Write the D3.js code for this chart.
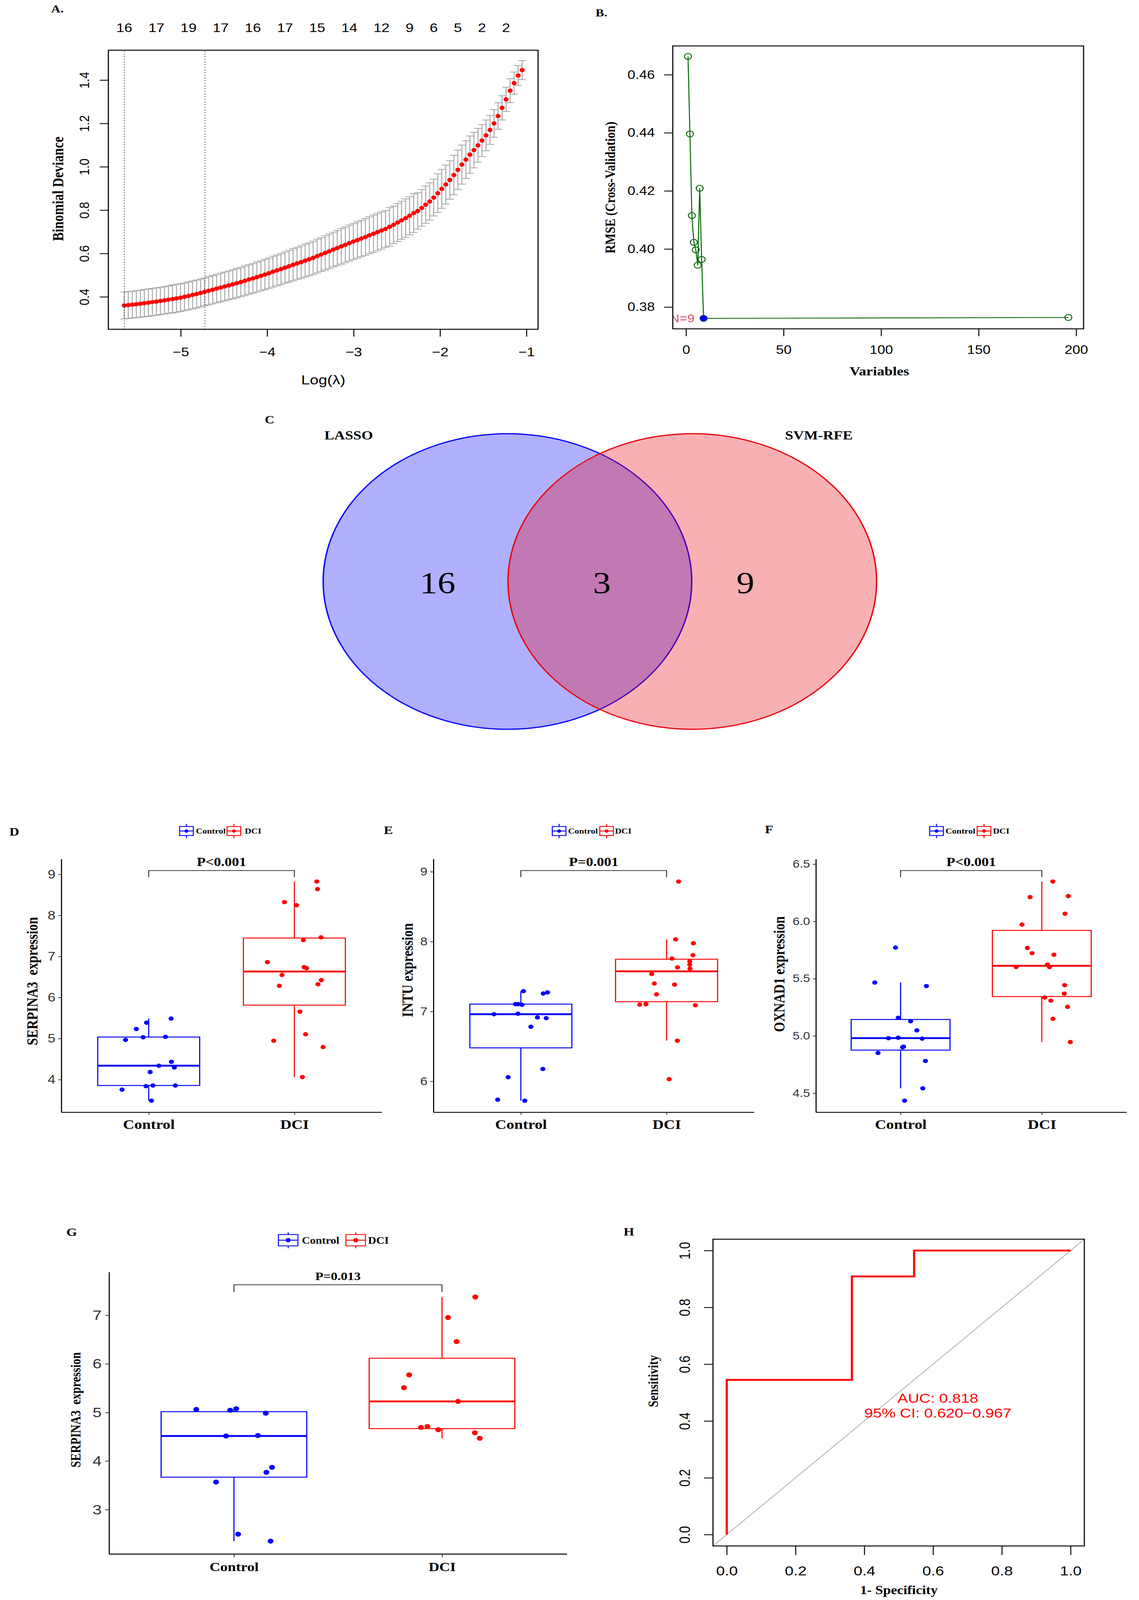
<!DOCTYPE html>
<html>
<head>
<meta charset="utf-8">
<script src="https://cdn.jsdelivr.net/npm/d3@7"></script>
<style>
  html, body { margin: 0; padding: 0; background: #fff; width: 100%; height: 100%; overflow: hidden; }
  svg { display: block; width: 100vw; height: 100vh; }
</style>
</head>
<body>
<svg id="fig" viewBox="0 0 2917 4796" preserveAspectRatio="none"></svg>
<script>
// ---------- A: LASSO cv.glmnet ----------
const lassoLogLambda = [
  -5.653,-5.607,-5.560,-5.514,-5.467,-5.421,-5.374,-5.328,-5.281,-5.235,
  -5.188,-5.142,-5.095,-5.049,-5.002,-4.956,-4.909,-4.863,-4.816,-4.770,
  -4.723,-4.677,-4.630,-4.584,-4.537,-4.491,-4.444,-4.398,-4.351,-4.305,
  -4.258,-4.212,-4.165,-4.119,-4.072,-4.026,-3.979,-3.933,-3.886,-3.840,
  -3.793,-3.747,-3.700,-3.654,-3.607,-3.561,-3.514,-3.468,-3.421,-3.375,
  -3.328,-3.282,-3.235,-3.189,-3.142,-3.096,-3.049,-3.003,-2.956,-2.910,
  -2.863,-2.817,-2.770,-2.724,-2.677,-2.631,-2.584,-2.538,-2.491,-2.445,
  -2.398,-2.352,-2.305,-2.259,-2.212,-2.166,-2.119,-2.073,-2.026,-1.980,
  -1.933,-1.887,-1.840,-1.794,-1.747,-1.701,-1.654,-1.608,-1.561,-1.515,
  -1.468,-1.422,-1.375,-1.329,-1.282,-1.236,-1.189,-1.143,-1.096,-1.050
];
const lassoDeviance = [
  0.360,0.362,0.364,0.366,0.368,0.371,0.373,0.376,0.378,0.381,
  0.384,0.387,0.390,0.393,0.396,0.400,0.404,0.409,0.413,0.418,
  0.423,0.428,0.433,0.438,0.443,0.448,0.453,0.458,0.463,0.468,
  0.474,0.480,0.485,0.491,0.497,0.503,0.509,0.516,0.522,0.528,
  0.535,0.541,0.548,0.554,0.560,0.567,0.573,0.580,0.588,0.595,
  0.603,0.610,0.618,0.625,0.633,0.640,0.648,0.655,0.662,0.669,
  0.676,0.684,0.691,0.699,0.706,0.713,0.723,0.732,0.743,0.753,
  0.763,0.774,0.786,0.796,0.810,0.825,0.840,0.858,0.878,0.898,
  0.918,0.939,0.962,0.986,1.010,1.033,1.056,1.077,1.099,1.121,
  1.145,1.170,1.200,1.234,1.272,1.311,1.351,1.386,1.421,1.446
];
const lassoSE = [
  0.062,0.062,0.062,0.062,0.062,0.063,0.063,0.063,0.063,0.063,
  0.063,0.063,0.064,0.064,0.064,0.064,0.064,0.064,0.064,0.064,
  0.064,0.065,0.065,0.065,0.066,0.066,0.066,0.067,0.067,0.067,
  0.068,0.068,0.068,0.069,0.069,0.070,0.070,0.071,0.071,0.072,
  0.072,0.073,0.074,0.074,0.075,0.076,0.076,0.077,0.078,0.078,
  0.079,0.080,0.080,0.081,0.082,0.082,0.083,0.083,0.084,0.084,
  0.085,0.085,0.086,0.086,0.086,0.085,0.089,0.087,0.088,0.088,
  0.089,0.088,0.089,0.084,0.085,0.086,0.086,0.085,0.089,0.090,
  0.090,0.089,0.091,0.091,0.090,0.087,0.086,0.082,0.078,0.074,
  0.071,0.067,0.064,0.061,0.056,0.056,0.055,0.051,0.046,0.044
];
const lassoVLines = [-5.653, -4.720];
const lassoTopAt = [-5.653,-5.281,-4.909,-4.537,-4.165,-3.793,-3.421,-3.049,-2.677,-2.352,-2.073,-1.794,-1.515,-1.236];
const lassoTopLabels = ['16','17','19','17','16','17','15','14','12','9','6','5','2','2'];
const lassoXTicks = [-5, -4, -3, -2, -1];
const lassoYTicks = [0.4, 0.6, 0.8, 1.0, 1.2, 1.4];

// ---------- B: SVM-RFE ----------
const rfeVariables = [1, 2, 3, 4, 5, 6, 7, 8, 9, 196];
const rfeRMSE = [0.4663, 0.4396, 0.4115, 0.4023, 0.3997, 0.3944, 0.4209, 0.3964, 0.3761, 0.3764];
const rfeBest = 9;
const rfeXTicks = [0, 50, 100, 150, 200];
const rfeYTicks = [0.38, 0.40, 0.42, 0.44, 0.46];

// ---------- C: Venn ----------
const vennSets = ['LASSO', 'SVM-RFE'];
const vennCounts = [16, 3, 9]; // LASSO only, both, SVM-RFE only

// ---------- D-G: expression box plots ----------
const groups = ['Control', 'DCI'];

const dCtrl    = [5.487,5.386,5.233,4.968,5.032,5.042,4.434,4.339,4.296,4.185,3.757,3.841,3.857,3.857,3.487];
const dCtrlJit = [0.154,-0.015,-0.085,-0.159,-0.038,0.115,0.156,0.070,0.176,0.010,-0.183,-0.019,0.029,0.183,0.019];
const dDci     = [8.825,8.640,8.323,8.249,7.466,7.397,6.862,6.741,6.714,6.550,6.423,6.323,6.286,5.656,5.106,4.947,4.794,4.063];
const dDciJit  = [0.154,0.159,-0.068,0.015,0.183,0.062,-0.185,0.067,0.084,-0.085,0.185,0.162,-0.103,0.038,0.077,-0.142,0.197,0.055];

const eCtrl    = [7.291,7.257,7.273,7.105,7.105,7.095,6.961,6.968,6.915,6.905,6.781,6.177,6.059,5.738,5.723];
const eCtrlJit = [0.018,0.154,0.183,-0.037,-0.018,0.008,-0.184,-0.020,0.114,0.174,0.069,0.151,-0.087,-0.159,0.027];
const eDci     = [8.860,8.032,7.976,7.805,7.758,7.718,7.671,7.631,7.612,7.537,7.400,7.385,7.245,7.098,7.105,7.089,6.582,6.031];
const eDciJit  = [0.082,0.062,0.184,0.181,0.037,0.159,0.159,0.075,0.161,-0.102,-0.084,0.055,-0.069,-0.184,-0.142,0.198,0.074,0.018];

const fCtrl    = [5.771,5.466,5.435,5.158,5.128,5.048,4.980,4.984,4.976,4.900,4.906,4.851,4.781,4.542,4.434];
const fCtrlJit = [-0.036,-0.183,0.183,-0.017,0.071,0.115,-0.086,-0.017,0.153,0.014,0.021,-0.160,0.176,0.157,0.028];
const fDci     = [6.348,6.212,6.221,6.067,5.972,5.768,5.722,5.709,5.602,5.623,5.601,5.443,5.369,5.335,5.308,5.253,5.149,4.946];
const fDciJit  = [0.078,-0.083,0.188,0.164,-0.140,-0.102,-0.069,0.086,-0.182,0.040,0.055,0.162,0.159,0.021,0.064,0.183,0.079,0.202];

const gCtrl    = [5.062,5.046,5.077,4.985,4.515,4.526,3.871,3.768,3.567,2.495,2.351];
const gCtrlJit = [-0.181,-0.018,0.011,0.153,-0.038,0.115,0.183,0.156,-0.086,0.020,0.176];
const gDci     = [7.376,6.954,6.459,5.773,5.510,5.227,4.691,4.711,4.644,4.582,4.469];
const gDciJit  = [0.160,0.029,0.070,-0.158,-0.183,0.077,-0.101,-0.070,-0.018,0.158,0.181];

// ---------- H: ROC ----------
const rocFpr = [0, 0, 0.364, 0.364, 0.545, 0.545, 1];
const rocTpr = [0, 0.545, 0.545, 0.909, 0.909, 1, 1];
const rocText = ['AUC: 0.818', '95% CI: 0.620\u22120.967'];
const rocTicks = [0, 0.2, 0.4, 0.6, 0.8, 1.0];

const SANS = '"Liberation Sans", Arial, Helvetica, sans-serif';
const SERIF = '"Liberation Serif", "Times New Roman", serif';
const groupColor = { Control: '#0000FF', DCI: '#FF0000' };

const svg = d3.select('#fig');
svg.append('rect').attr('width', 2917).attr('height', 4796).attr('fill', '#fff');

// R pads axis ranges by 4%
const rPad = ([a, b]) => [a - 0.04 * (b - a), b + 0.04 * (b - a)];

function addText(parent, txt, x, y, size, opt = {}) {
  return parent.append('text')
    .attr('x', x).attr('y', y)
    .attr('font-family', opt.family || SERIF)
    .attr('font-weight', opt.weight || 'bold')
    .attr('font-size', size)
    .attr('fill', opt.fill || '#000')
    .attr('text-anchor', opt.anchor || 'start')
    .text(txt);
}
function addVText(parent, txt, x, y, size, opt = {}) {
  return parent.append('text')
    .attr('transform', `translate(${x},${y}) rotate(-90)`)
    .attr('font-family', opt.family || SERIF)
    .attr('font-weight', opt.weight || 'bold')
    .attr('font-size', size)
    .attr('fill', '#000')
    .attr('text-anchor', 'middle')
    .attr('xml:space', 'preserve')
    .text(txt);
}

// R style axes: no domain line (box drawn instead)
function rAxisBottom(g, scale, ticks, yPos, fmt, tickLen, pad, size) {
  g.append('g').attr('transform', `translate(0,${yPos})`)
    .call(d3.axisBottom(scale).tickValues(ticks).tickSize(tickLen).tickPadding(pad).tickFormat(fmt))
    .call(a => a.select('.domain').remove())
    .call(a => a.selectAll('line').attr('stroke', '#000').attr('stroke-width', 2.5))
    .call(a => a.selectAll('text').attr('font-family', SANS).attr('font-size', size).attr('fill', '#000'));
}
function rAxisLeftRotated(g, scale, ticks, xPos, fmt, tickLen, offset, size) {
  g.append('g').attr('transform', `translate(${xPos},0)`)
    .call(d3.axisLeft(scale).tickValues(ticks).tickSize(tickLen).tickFormat(fmt))
    .call(a => a.select('.domain').remove())
    .call(a => a.selectAll('line').attr('stroke', '#000').attr('stroke-width', 2.5))
    .call(a => a.selectAll('text')
      .attr('x', 0).attr('y', -offset).attr('dy', 0)
      .attr('transform', 'rotate(-90)')
      .attr('text-anchor', 'middle')
      .attr('font-family', SANS).attr('font-size', size).attr('fill', '#000'));
}

// ================= Panel A =================
(function panelA() {
  const g = svg.append('g');
  const lo = lassoDeviance.map((d, i) => d - lassoSE[i]);
  const hi = lassoDeviance.map((d, i) => d + lassoSE[i]);
  const x = d3.scaleLinear().domain(rPad(d3.extent(lassoLogLambda))).range([277.5, 1378]);
  const y = d3.scaleLinear().domain(rPad([d3.min(lo), d3.max(hi)])).range([987, 150.5]);

  const bars = g.append('g').attr('stroke', '#A9A9A9').attr('stroke-width', 2.5);
  bars.selectAll('line.v').data(lassoLogLambda).join('line').attr('class', 'v')
    .attr('x1', d => x(d)).attr('x2', d => x(d))
    .attr('y1', (d, i) => y(lo[i])).attr('y2', (d, i) => y(hi[i]));
  bars.selectAll('line.u').data(lassoLogLambda).join('line').attr('class', 'u')
    .attr('x1', d => x(d) - 10).attr('x2', d => x(d) + 10)
    .attr('y1', (d, i) => y(hi[i])).attr('y2', (d, i) => y(hi[i]));
  bars.selectAll('line.l').data(lassoLogLambda).join('line').attr('class', 'l')
    .attr('x1', d => x(d) - 10).attr('x2', d => x(d) + 10)
    .attr('y1', (d, i) => y(lo[i])).attr('y2', (d, i) => y(lo[i]));

  g.append('g').selectAll('circle').data(lassoLogLambda).join('circle')
    .attr('cx', d => x(d)).attr('cy', (d, i) => y(lassoDeviance[i]))
    .attr('r', 6.5).attr('fill', '#FF0000');

  g.selectAll('line.vl').data(lassoVLines).join('line').attr('class', 'vl')
    .attr('x1', d => x(d)).attr('x2', d => x(d))
    .attr('y1', y.range()[0]).attr('y2', y.range()[1])
    .attr('stroke', '#000').attr('stroke-width', 2).attr('stroke-dasharray', '2,6');

  g.append('rect').attr('x', x.range()[0]).attr('y', y.range()[1])
    .attr('width', x.range()[1] - x.range()[0]).attr('height', y.range()[0] - y.range()[1])
    .attr('fill', 'none').attr('stroke', '#000').attr('stroke-width', 2.8);

  rAxisBottom(g, x, lassoXTicks, 987, d3.format('d'), 22, 33, 37);
  rAxisLeftRotated(g, y, lassoYTicks, 277.5, d3.format('.1f'), 22, 50, 36);

  g.append('g').selectAll('text').data(lassoTopAt).join('text')
    .attr('x', d => x(d)).attr('y', 96)
    .attr('text-anchor', 'middle').attr('font-family', SANS).attr('font-size', 37)
    .text((d, i) => lassoTopLabels[i]);

  addText(g, 'Log(\u03BB)', 828, 1152, 40, { family: SANS, weight: 'normal', anchor: 'middle' });
  addVText(g, 'Binomial Deviance', 162, 566, 39);
  addText(g, 'A.', 131, 37, 33);
})();

// ================= Panel B =================
(function panelB() {
  const g = svg.append('g');
  const x = d3.scaleLinear().domain(rPad(d3.extent(rfeVariables))).range([1723, 2775]);
  const y = d3.scaleLinear().domain(rPad(d3.extent(rfeRMSE))).range([985.7, 137.7]);
  const pts = rfeVariables.map((v, i) => [v, rfeRMSE[i]]);

  g.append('defs').append('clipPath').attr('id', 'clipB')
    .append('rect').attr('x', 1723).attr('y', 137.7).attr('width', 1052).attr('height', 848);

  g.append('path').datum(pts)
    .attr('d', d3.line().x(d => x(d[0])).y(d => y(d[1])))
    .attr('fill', 'none').attr('stroke', '#006400').attr('stroke-width', 2.5);
  g.append('g').selectAll('circle').data(pts).join('circle')
    .attr('cx', d => x(d[0])).attr('cy', d => y(d[1])).attr('r', 9)
    .attr('fill', 'none').attr('stroke', '#006400').attr('stroke-width', 2.5);
  const best = pts.find(d => d[0] === rfeBest);
  g.append('circle').attr('cx', x(best[0])).attr('cy', y(best[1])).attr('r', 9).attr('fill', '#0000FF');
  g.append('text').attr('clip-path', 'url(#clipB)')
    .attr('x', x(best[0]) - 23).attr('y', y(best[1]) + 12)
    .attr('text-anchor', 'end').attr('font-family', SANS).attr('font-size', 34)
    .attr('fill', '#DF536B').text('N=' + rfeBest);

  g.append('rect').attr('x', 1723).attr('y', 137.7).attr('width', 1052).attr('height', 848)
    .attr('fill', 'none').attr('stroke', '#000').attr('stroke-width', 2.8);

  rAxisBottom(g, x, rfeXTicks, 985.7, d3.format('d'), 22, 28, 36);
  g.append('g').attr('transform', 'translate(1723,0)')
    .call(d3.axisLeft(y).tickValues(rfeYTicks).tickSize(22).tickPadding(24).tickFormat(d3.format('.2f')))
    .call(a => a.select('.domain').remove())
    .call(a => a.selectAll('line').attr('stroke', '#000').attr('stroke-width', 2.5))
    .call(a => a.selectAll('text').attr('font-family', SANS).attr('font-size', 36).attr('fill', '#000'));

  addText(g, 'Variables', 2252, 1125, 38, { anchor: 'middle' });
  addVText(g, 'RMSE (Cross-Validation)', 1575, 562, 36);
  addText(g, 'B.', 1525, 49, 33);
})();

// ================= Panel C =================
(function panelC() {
  const g = svg.append('g');
  const ell = [
    { cx: 1299.6, color: '#0000FF' },
    { cx: 1773.0, color: '#E8000B' }
  ];
  g.selectAll('ellipse').data(ell).join('ellipse')
    .attr('cx', d => d.cx).attr('cy', 1743).attr('rx', 472).attr('ry', 443)
    .attr('fill', d => d.color).attr('fill-opacity', 0.31)
    .attr('stroke', d => d.color).attr('stroke-width', 3.5);
  const countX = [1120.6, 1541.4, 1909];
  g.append('g').selectAll('text').data(vennCounts).join('text')
    .attr('x', (d, i) => countX[i]).attr('y', 1778)
    .attr('text-anchor', 'middle').attr('font-family', SERIF).attr('font-size', 92)
    .text(d => d);
  const setX = [893, 2097];
  g.append('g').selectAll('text').data(vennSets).join('text')
    .attr('x', (d, i) => setX[i]).attr('y', 1317)
    .attr('text-anchor', 'middle').attr('font-family', SERIF).attr('font-weight', 'bold')
    .attr('font-size', 38).text(d => d);
  addText(g, 'C', 678, 1269, 34);
})();

// ================= Box panels D-G =================
function boxStats(v) {
  const s = v.slice().sort(d3.ascending);
  const q1 = d3.quantileSorted(s, 0.25), med = d3.quantileSorted(s, 0.5), q3 = d3.quantileSorted(s, 0.75);
  const iqr = q3 - q1;
  return {
    q1, med, q3,
    lo: d3.min(s.filter(d => d >= q1 - 1.5 * iqr)),
    hi: d3.max(s.filter(d => d <= q3 + 1.5 * iqr))
  };
}

function legendKey(g, L) {
  groups.forEach((grp, i) => {
    const c = groupColor[grp];
    const left = L.icon[i], cx = left + L.w / 2;
    g.append('line').attr('x1', cx).attr('x2', cx)
      .attr('y1', L.cy - L.wh / 2).attr('y2', L.cy + L.wh / 2).attr('stroke', c).attr('stroke-width', 2.5);
    g.append('rect').attr('x', left).attr('y', L.cy - L.h / 2).attr('width', L.w).attr('height', L.h)
      .attr('fill', '#fff').attr('stroke', c).attr('stroke-width', 2.5);
    g.append('line').attr('x1', left).attr('x2', left + L.w).attr('y1', L.cy).attr('y2', L.cy)
      .attr('stroke', c).attr('stroke-width', 2.5);
    g.append('circle').attr('cx', cx).attr('cy', L.cy).attr('r', L.r).attr('fill', c);
    g.append('text').attr('x', L.text[i]).attr('y', L.cy).attr('dy', '0.35em')
      .attr('font-family', SERIF).attr('font-weight', 'bold').attr('font-size', L.size).text(grp);
  });
}

function boxPanel(P) {
  const g = svg.append('g');
  const data = { Control: { v: P.ctrl, j: P.ctrlJit }, DCI: { v: P.dci, j: P.dciJit } };
  const all = P.ctrl.concat(P.dci);
  const lo = d3.min(all), hi = d3.max(all);
  const span = hi - lo;
  const brY = hi + 0.05 * span, tip = 0.03 * span;   // ggsignif defaults
  const d0 = lo, d1 = brY, pad = 0.05 * (d1 - d0);    // ggplot 5% expansion
  const y = d3.scaleLinear().domain([d0 - pad, d1 + pad]).range([P.yb, P.yt]);
  const x = d3.scalePoint().domain(groups).range([P.x0, P.x1]).padding(0.6);
  const step = x.step(), bw = 0.7 * step;

  groups.forEach(grp => {
    const s = boxStats(data[grp].v), c = groupColor[grp], cx = x(grp);
    g.append('line').attr('x1', cx).attr('x2', cx).attr('y1', y(s.hi)).attr('y2', y(s.q3))
      .attr('stroke', c).attr('stroke-width', 2.8);
    g.append('line').attr('x1', cx).attr('x2', cx).attr('y1', y(s.q1)).attr('y2', y(s.lo))
      .attr('stroke', c).attr('stroke-width', 2.8);
    g.append('rect').attr('x', cx - bw / 2).attr('y', y(s.q3)).attr('width', bw).attr('height', y(s.q1) - y(s.q3))
      .attr('fill', 'none').attr('stroke', c).attr('stroke-width', 2.8);
    g.append('line').attr('x1', cx - bw / 2).attr('x2', cx + bw / 2).attr('y1', y(s.med)).attr('y2', y(s.med))
      .attr('stroke', c).attr('stroke-width', 5.5);
    g.append('g').selectAll('circle').data(data[grp].v).join('circle')
      .attr('cx', (d, i) => cx + data[grp].j[i] * step).attr('cy', d => y(d))
      .attr('r', P.r).attr('fill', c);
  });

  // significance bracket
  const bx0 = x(groups[0]), bx1 = x(groups[1]);
  g.append('path')
    .attr('d', `M${bx0},${y(brY - tip)}V${y(brY)}H${bx1}V${y(brY - tip)}`)
    .attr('fill', 'none').attr('stroke', '#222').attr('stroke-width', 2.2);
  addText(g, P.pText, (bx0 + bx1) / 2, y(brY) - 14, P.pSize, { anchor: 'middle' });

  // axes
  g.append('g').attr('transform', `translate(${P.x0},0)`)
    .call(d3.axisLeft(y).tickValues(P.yTicks).tickFormat(P.fmt).tickSize(P.tl).tickPadding(P.tp).tickSizeOuter(0))
    .call(a => a.select('.domain').attr('stroke', '#000').attr('stroke-width', 2.8))
    .call(a => a.selectAll('.tick line').attr('stroke', '#333').attr('stroke-width', 2.2))
    .call(a => a.selectAll('text').attr('font-family', SANS).attr('font-size', P.tickSize).attr('fill', '#333'));
  g.append('g').attr('transform', `translate(0,${P.yb})`)
    .call(d3.axisBottom(x).tickSize(P.tl).tickPadding(14).tickSizeOuter(0))
    .call(a => a.select('.domain').attr('stroke', '#000').attr('stroke-width', 2.8))
    .call(a => a.selectAll('.tick line').attr('stroke', '#333').attr('stroke-width', 2.2))
    .call(a => a.selectAll('text').attr('font-family', SERIF).attr('font-weight', 'bold')
      .attr('font-size', P.xSize).attr('fill', '#000'));

  addVText(g, P.yLabel, P.ylx, P.yly, P.ylSize);
  legendKey(g, P.legend);
  addText(g, P.letter[0], P.letter[1], P.letter[2], 35);
}

boxPanel({
  ctrl: dCtrl, ctrlJit: dCtrlJit, dci: dDci, dciJit: dDciJit,
  x0: 157, x1: 977.7, yb: 3333.8, yt: 2575, r: 6.5,
  yTicks: [4, 5, 6, 7, 8, 9], fmt: d3.format('d'), tl: 8, tp: 7, tickSize: 36, xSize: 40,
  pText: 'P<0.001', pSize: 37,
  yLabel: 'SERPINA3  expression', ylx: 96, yly: 2941, ylSize: 39,
  legend: { icon: [460, 581.6], text: [502, 627], cy: 2491, w: 35, h: 27, wh: 43, r: 5, size: 23 },
  letter: ['D', 24, 2505]
});
boxPanel({
  ctrl: eCtrl, ctrlJit: eCtrlJit, dci: eDci, dciJit: eDciJit,
  x0: 1110, x1: 1931, yb: 3333.8, yt: 2575, r: 6.5,
  yTicks: [6, 7, 8, 9], fmt: d3.format('d'), tl: 8, tp: 7, tickSize: 34, xSize: 40,
  pText: 'P=0.001', pSize: 37,
  yLabel: 'INTU expression', ylx: 1057, yly: 2908, ylSize: 39,
  legend: { icon: [1414.4, 1536], text: [1455, 1575], cy: 2491, w: 35, h: 27, wh: 43, r: 5, size: 23 },
  letter: ['E', 983, 2500]
});
boxPanel({
  ctrl: fCtrl, ctrlJit: fCtrlJit, dci: fDci, dciJit: fDciJit,
  x0: 2089.5, x1: 2885, yb: 3333.8, yt: 2575, r: 6.5,
  yTicks: [4.5, 5.0, 5.5, 6.0, 6.5], fmt: d3.format('.1f'), tl: 8, tp: 7, tickSize: 32, xSize: 40,
  pText: 'P<0.001', pSize: 37,
  yLabel: 'OXNAD1 expression', ylx: 2009, yly: 2920, ylSize: 39,
  legend: { icon: [2381, 2502.6], text: [2421.6, 2543], cy: 2491, w: 35, h: 27, wh: 43, r: 5, size: 23 },
  letter: ['F', 1959, 2497]
});
boxPanel({
  ctrl: gCtrl, ctrlJit: gCtrlJit, dci: gDci, dciJit: gDciJit,
  x0: 279.4, x1: 1451.7, yb: 4658, yt: 3812.8, r: 7.5,
  yTicks: [3, 4, 5, 6, 7], fmt: d3.format('d'), tl: 10, tp: 9, tickSize: 42, xSize: 38,
  pText: 'P=0.013', pSize: 34,
  yLabel: 'SERPINA3  expression', ylx: 206, yly: 4226, ylSize: 35,
  legend: { icon: [713, 886], text: [773, 942.6], cy: 3717.5, w: 50, h: 34, wh: 48, r: 6.5, size: 29 },
  letter: ['G', 170, 3705]
});

// ================= Panel H =================
(function panelH() {
  const g = svg.append('g');
  const x = d3.scaleLinear().domain(rPad([0, 1])).range([1826, 2777]);
  const y = d3.scaleLinear().domain(rPad([0, 1])).range([4634, 3714.5]);

  g.append('line')
    .attr('x1', x(x.domain()[0])).attr('y1', y(y.domain()[0]))
    .attr('x2', x(x.domain()[1])).attr('y2', y(y.domain()[1]))
    .attr('stroke', '#A8A8A8').attr('stroke-width', 2);

  g.append('path').datum(rocFpr.map((d, i) => [d, rocTpr[i]]))
    .attr('d', d3.line().x(d => x(d[0])).y(d => y(d[1])))
    .attr('fill', 'none').attr('stroke', '#FF0000').attr('stroke-width', 5.5);

  g.append('rect').attr('x', 1826).attr('y', 3714.5).attr('width', 951).attr('height', 919.5)
    .attr('fill', 'none').attr('stroke', '#000').attr('stroke-width', 2.8);

  rAxisBottom(g, x, rocTicks, 4634, d3.format('.1f'), 27, 33, 40);
  rAxisLeftRotated(g, y, rocTicks, 1826, d3.format('.1f'), 23, 59, 38);

  const tx = x(0.614);
  addText(g, rocText[0], tx, y(0.4645), 40, { family: SANS, weight: 'normal', anchor: 'middle', fill: '#FF0000' });
  addText(g, rocText[1], tx, y(0.4117), 40, { family: SANS, weight: 'normal', anchor: 'middle', fill: '#FF0000' });

  addText(g, '1- Specificity', 2302, 4779, 36, { anchor: 'middle' });
  addVText(g, 'Sensitivity', 1685, 4140, 35);
  addText(g, 'H', 1597, 3704, 35);
})();
</script>
</body>
</html>
